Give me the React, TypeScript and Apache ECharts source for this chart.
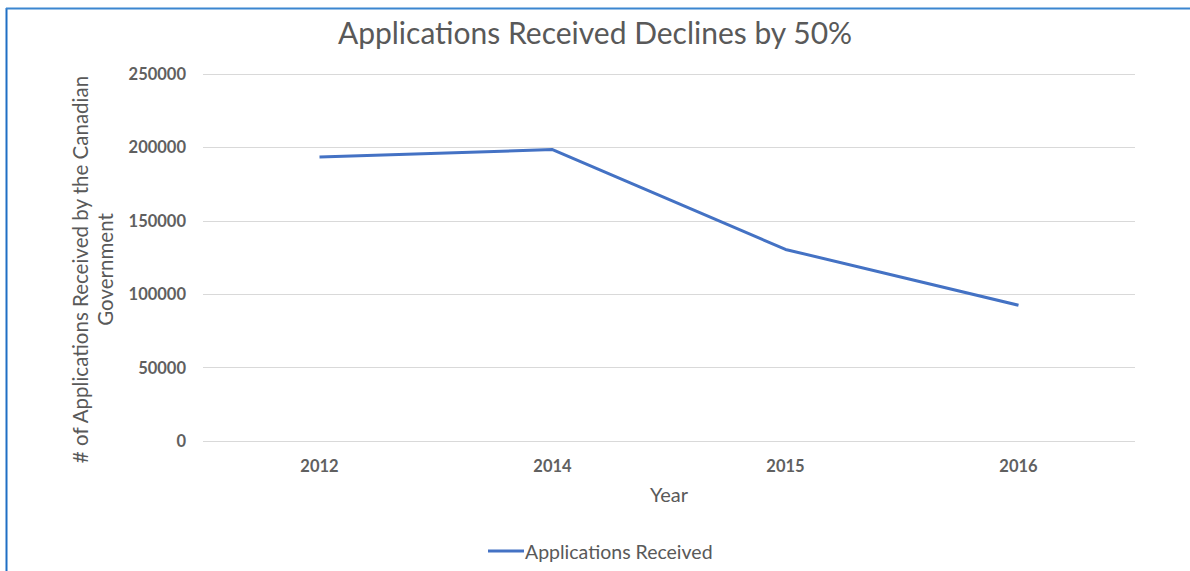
import React, { useEffect, useRef } from "react";
import * as echarts from "echarts";

const categories = ["2012", "2014", "2015", "2016"];
const applicationsReceived = [193500, 198500, 130500, 92500];
const seriesName = "Applications Received";
const titleText = "Applications Received Declines by 50%";
const yAxisName = "# of Applications Received by the Canadian\nGovernment";
const xAxisName = "Year";

export default function App() {
  const ref = useRef<HTMLDivElement>(null);
  useEffect(() => {
    if (!ref.current) return;
    const chart = echarts.init(ref.current, null, { renderer: "svg" });
    const font = "Lato, 'Open Sans', sans-serif";
    chart.setOption({
      animation: false,
      backgroundColor: "#ffffff",
      title: {
        text: titleText,
        left: "center",
        top: 12,
        textStyle: { fontFamily: font, fontSize: 30, fontWeight: "normal", color: "#595959" },
      },
      legend: {
        bottom: 5,
        left: 483,
        itemWidth: 36,
        itemHeight: 3,
        itemGap: 2,
        icon: "rect",
        textStyle: { fontFamily: font, fontSize: 19.5, color: "#595959", padding: [0, 0, 0, -4] },
        data: [seriesName],
      },
      grid: { left: 203, right: 55, top: 74, bottom: 130, containLabel: false },
      xAxis: {
        type: "category",
        data: categories,
        boundaryGap: true,
        name: xAxisName,
        nameLocation: "middle",
        nameGap: 43,
        nameTextStyle: { fontFamily: font, fontSize: 20, color: "#595959" },
        axisLine: { show: false },
        axisTick: { show: false },
        axisLabel: { fontFamily: font, fontSize: 16.5, fontWeight: "bold", color: "#606060", margin: 16 },
      },
      yAxis: {
        type: "value",
        min: 0,
        max: 250000,
        interval: 50000,
        name: yAxisName,
        nameLocation: "middle",
        nameRotate: 90,
        nameGap: 84,
        nameTextStyle: {
          fontFamily: font,
          fontSize: 20.5,
          color: "#595959",
          lineHeight: 25,
          padding: [0, 24, 0, 0],
        },
        axisLine: { show: false },
        axisTick: { show: false },
        axisLabel: {
          fontFamily: font,
          fontSize: 16.5,
          fontWeight: "bold",
          color: "#606060",
          margin: 17,
          formatter: (v: number) => String(v),
        },
        splitLine: { lineStyle: { color: "#d9d9d9", width: 1 } },
      },
      series: [
        {
          name: seriesName,
          type: "line",
          data: applicationsReceived,
          symbol: "none",
          lineStyle: { color: "#4472c4", width: 3 },
          itemStyle: { color: "#4472c4" },
        },
      ],
      graphic: [
        { type: "line", shape: { x1: 6.5, y1: 8, x2: 6.5, y2: 571 }, style: { stroke: "#1f6fc4", lineWidth: 2 } },
        { type: "line", shape: { x1: 6, y1: 8.5, x2: 1190, y2: 8.5 }, style: { stroke: "#3b86d0", lineWidth: 2 } },
      ],
    });
    return () => chart.dispose();
  }, []);
  return (
    <div
      ref={ref}
      style={{ position: "fixed", left: 0, top: 0, width: 1190, height: 571 }}
    />
  );
}
